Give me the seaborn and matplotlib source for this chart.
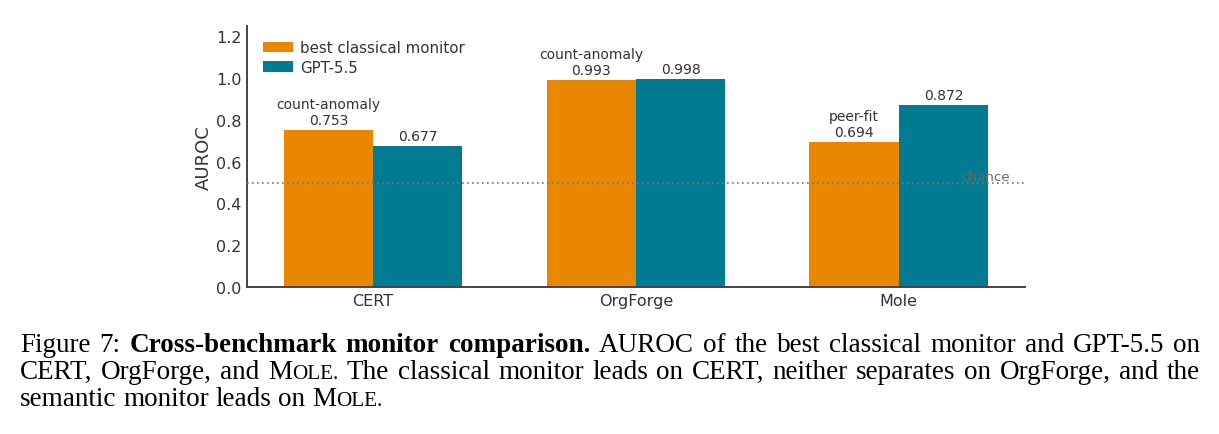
import numpy as np
import pandas as pd
import matplotlib
matplotlib.use("Agg")
import matplotlib.pyplot as plt
from matplotlib.transforms import IdentityTransform
import seaborn as sns

# ----------------------------------------
# data
# ----------------------------------------
benchmarks = ["CERT", "OrgForge", "Mole"]
classical_auroc = [0.753, 0.993, 0.694]
classical_names = ["count-anomaly", "count-anomaly", "peer-fit"]
gpt_auroc = [0.677, 0.998, 0.872]
series = ["best classical monitor", "GPT-5.5"]
chance_level = 0.5
y_ticks = [0.0, 0.2, 0.4, 0.6, 0.8, 1.0, 1.2]

colors = ["#E98700", "#007B91"]
text_col = "#333333"

df = pd.DataFrame({
    "benchmark": benchmarks * 2,
    "monitor": [series[0]] * 3 + [series[1]] * 3,
    "auroc": classical_auroc + gpt_auroc,
})

sns.set_theme(style="white")
plt.rcParams["font.family"] = ["DejaVu Sans"]
plt.rcParams["text.color"] = text_col
plt.rcParams["axes.labelcolor"] = text_col
plt.rcParams["xtick.color"] = text_col
plt.rcParams["ytick.color"] = text_col

fig = plt.figure(figsize=(12.19, 4.35), dpi=100)
ax = fig.add_axes([0.2026, 0.338, 0.6382, 0.600])

sns.barplot(data=df, x="benchmark", y="auroc", hue="monitor",
            order=benchmarks, hue_order=series, palette=colors,
            saturation=1, width=0.68, gap=0, ax=ax, legend=True,
            linewidth=0, edgecolor="none")

ax.set_xlim(-0.48, 2.48)
ax.set_ylim(0, 1.25)
ax.set_yticks(y_ticks)
ax.set_yticklabels([f"{t:.1f}" for t in y_ticks])
ax.tick_params(axis="both", length=0, labelsize=11.5, pad=4)
ax.set_xlabel("")
ax.set_ylabel("AUROC", fontsize=13, labelpad=2)
sns.despine(ax=ax)
for s in ["left", "bottom"]:
    ax.spines[s].set_color("#444444")
    ax.spines[s].set_linewidth(1.4)

# chance line
ax.axhline(chance_level, color="#777777", linestyle=(0, (1, 2)), linewidth=1.2, zorder=3)
ax.text(2.422, chance_level, "chance", ha="right", va="bottom",
        fontsize=9.7, color="#6a6a6a", zorder=4)

# value labels
for i, v in enumerate(classical_auroc):
    ax.annotate(f"{classical_names[i]}\n{v:.3f}", (i - 0.17, v), xytext=(0, 2),
                textcoords="offset points", ha="center", va="bottom", fontsize=10)
for i, v in enumerate(gpt_auroc):
    ax.annotate(f"{v:.3f}", (i + 0.17, v), xytext=(0, 2),
                textcoords="offset points", ha="center", va="bottom", fontsize=10)

handles, labels = ax.get_legend_handles_labels()
ax.legend(handles, labels, loc="upper left", bbox_to_anchor=(0.007, 0.985),
          frameon=False, fontsize=10.8, handlelength=2.0, handleheight=0.72,
          handletextpad=0.45, labelspacing=0.3, borderpad=0.2)

# ----------------------------------------
# caption (justified, Times-like)
# ----------------------------------------
cap_size = 19.5
serif = "Liberation Serif"
N, B = "normal", "bold"
caption = [
    [[("Figure", N, 1)], [("7:", N, 1)], [("Cross-benchmark", B, 1)], [("monitor", B, 1)],
     [("comparison.", B, 1)], [("AUROC", N, 1)], [("of", N, 1)], [("the", N, 1)],
     [("best", N, 1)], [("classical", N, 1)], [("monitor", N, 1)], [("and", N, 1)],
     [("GPT-5.5", N, 1)], [("on", N, 1)]],
    [[("CERT,", N, 1)], [("OrgForge,", N, 1)], [("and", N, 1)],
     [("M", N, 1), ("OLE.", N, 0.78)], [("The", N, 1)], [("classical", N, 1)],
     [("monitor", N, 1)], [("leads", N, 1)], [("on", N, 1)], [("CERT,", N, 1)],
     [("neither", N, 1)], [("separates", N, 1)], [("on", N, 1)], [("OrgForge,", N, 1)],
     [("and", N, 1)], [("the", N, 1)]],
    [[("semantic", N, 1)], [("monitor", N, 1)], [("leads", N, 1)], [("on", N, 1)],
     [("M", N, 1), ("OLE.", N, 0.78)]],
]
baselines = [435 - 352, 435 - 379, 435 - 406]
x_left, x_right = 20, 1200

renderer = fig.canvas.get_renderer()
space_w = fig.text(0, 0, "a a", fontsize=cap_size, family=serif)
a_w = fig.text(0, 0, "aa", fontsize=cap_size, family=serif)
sp = (space_w.get_window_extent(renderer).width - a_w.get_window_extent(renderer).width)
space_w.remove()
a_w.remove()

for li, line in enumerate(caption):
    y = baselines[li]
    word_texts = []
    word_widths = []
    for word in line:
        runs = []
        w = 0
        for txt, weight, scale in word:
            t = fig.text(0, y, txt, fontsize=cap_size * scale, fontweight=weight,
                         family=serif, color="black", transform=IdentityTransform(),
                         ha="left", va="baseline")
            rw = t.get_window_extent(renderer).width
            runs.append((t, w))
            w += rw
        word_texts.append(runs)
        word_widths.append(w)
    if li < len(caption) - 1:
        gap = (x_right - x_left - sum(word_widths)) / (len(line) - 1)
    else:
        gap = sp
    x = x_left
    for runs, w in zip(word_texts, word_widths):
        for t, off in runs:
            t.set_x(x + off)
        x += w + gap

fig.savefig("out.png", dpi=100)
